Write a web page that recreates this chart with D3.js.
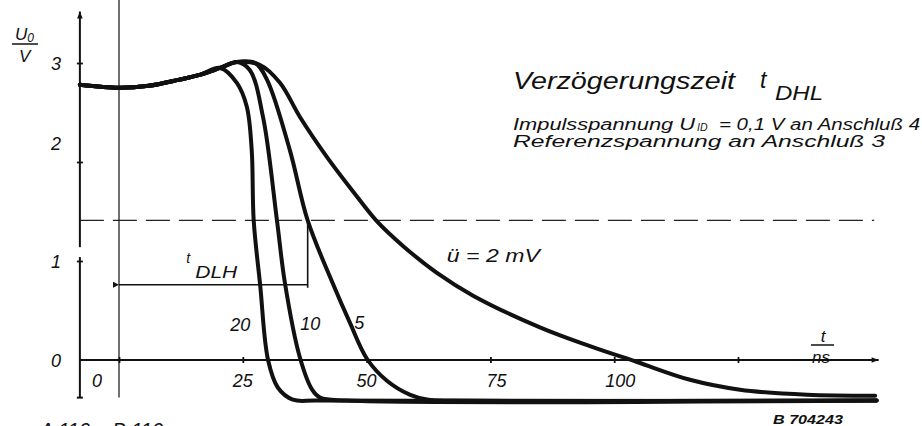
<!DOCTYPE html>
<html><head><meta charset="utf-8">
<script src="https://cdnjs.cloudflare.com/ajax/libs/d3/7.8.5/d3.min.js"></script>
<style>
html,body{margin:0;padding:0;background:#fff;}
svg{display:block;}
text{font-family:"Liberation Sans","DejaVu Sans",sans-serif;font-style:italic;fill:#111;}
</style></head><body>
<script>
// ---- data (t in ns, U0 in V) ----
const xTickValues = [0, 25, 50, 75, 100, 125];
const xTickLabels = ["0", "25", "50", "75", "100", ""];
const yTickValues = [3, 2, 1, 0];
const yTickLabels = ["3", "2", "1", "0"];
const threshold = 1.41;          // dashed reference level
const tdlhEnd = 38.1;            // end of t_DLH arrow (curve 5 crossing)
const tdlhLevel = 0.76;          // level of the t_DLH arrow

const seriesLabels = ["20", "10", "5", "ü = 2 mV"];
const t20 = [-7.9, 0, 6, 12, 16.3, 20.4, 23.8, 25.8, 26.8, 27.2, 28.5, 30.1, 32.1, 35.1, 40, 153];
const v20 = [2.78, 2.75, 2.77, 2.83, 2.88, 2.95, 2.80, 2.56, 2.12, 1.41, 0.76, 0, -0.28, -0.40, -0.41, -0.41];
const t10 = [-7.9, 0, 6, 12, 16.3, 20.4, 23.8, 26.4, 29.1, 31.9, 33.5, 36.5, 39, 40.6, 46, 153];
const v10 = [2.78, 2.75, 2.77, 2.83, 2.88, 2.95, 3.01, 2.93, 2.45, 1.41, 0.78, 0.03, -0.30, -0.38, -0.41, -0.41];
const t5 = [-7.9, 0, 6, 12, 16.3, 20.4, 23.8, 27.5, 29.9, 34.5, 38.1, 43.2, 46.6, 50.1, 54.1, 58.7, 62.2, 68, 153];
const v5 = [2.78, 2.75, 2.77, 2.83, 2.88, 2.95, 3.01, 3.0, 2.83, 2.12, 1.41, 0.77, 0.38, 0.01, -0.21, -0.35, -0.40, -0.41, -0.41];
const t2 = [-7.9, 0, 6, 12, 16.3, 20.4, 23.8, 28.5, 32.5, 36.6, 42.0, 47.3, 52.1, 57.4, 64.2, 71.5, 85.0, 95.1, 104.6, 115.3, 125.4, 138.9, 152.7];
const v2 = [2.78, 2.75, 2.77, 2.83, 2.88, 2.95, 3.01, 2.98, 2.80, 2.45, 2.05, 1.70, 1.40, 1.15, 0.88, 0.65, 0.33, 0.14, -0.02, -0.20, -0.30, -0.35, -0.36];

const W = 922, H = 426;
const svg = d3.select("body").append("svg").attr("width", W).attr("height", H);
svg.append("rect").attr("width", W).attr("height", H).attr("fill", "#fff");

const x = d3.scaleLinear().domain([0, 125]).range([119, 738]);
const y = d3.scaleLinear().domain([0, 3]).range([360, 63]);
const tMin = -7.9, tMax = 153.4, vMin = -0.38, vMax = 3.52;

const defs = svg.append("defs");
defs.append("marker").attr("id", "arrUp").attr("viewBox", "0 0 10 10").attr("refX", 10).attr("refY", 5)
  .attr("markerWidth", 12).attr("markerHeight", 7).attr("markerUnits", "userSpaceOnUse").attr("orient", "auto")
  .append("path").attr("d", "M0,1 L10,5 L0,9 Z").attr("fill", "#111");
defs.append("marker").attr("id", "arrL").attr("viewBox", "0 0 10 10").attr("refX", 0).attr("refY", 5)
  .attr("markerWidth", 14).attr("markerHeight", 6).attr("markerUnits", "userSpaceOnUse").attr("orient", "auto-start-reverse")
  .append("path").attr("d", "M0,5 L10,0 L10,10 Z").attr("fill", "#111");

// dashed threshold
svg.append("line").attr("x1", x(tMin)).attr("x2", x(152.5)).attr("y1", y(threshold)).attr("y2", y(threshold))
  .attr("stroke", "#222").attr("stroke-width", 1.3).attr("stroke-dasharray", "24,9");

// t = 0 vertical line
svg.append("line").attr("x1", x(0)).attr("x2", x(0)).attr("y1", 0).attr("y2", y(vMin))
  .attr("stroke", "#222").attr("stroke-width", 1.3);

// axes lines
svg.append("line").attr("x1", x(tMin)).attr("x2", x(tMin)).attr("y1", y(vMin)).attr("y2", y(1.04))
  .attr("stroke", "#111").attr("stroke-width", 2);
svg.append("line").attr("x1", x(tMin)).attr("x2", x(tMin)).attr("y1", y(1.14)).attr("y2", y(vMax))
  .attr("stroke", "#111").attr("stroke-width", 2).attr("marker-end", "url(#arrUp)");
svg.append("line").attr("x1", x(tMin) - 3).attr("x2", x(tMin) + 3).attr("y1", y(vMin)).attr("y2", y(vMin))
  .attr("stroke", "#111").attr("stroke-width", 2);
svg.append("line").attr("x1", x(tMin)).attr("x2", x(tMax)).attr("y1", y(0)).attr("y2", y(0))
  .attr("stroke", "#111").attr("stroke-width", 1.8).attr("marker-end", "url(#arrUp)");

// axis ticks via d3 axes
const gx = svg.append("g").attr("transform", `translate(0,${y(0) - 3})`)
  .call(d3.axisBottom(x).tickValues(xTickValues).tickSizeInner(6).tickSizeOuter(0).tickFormat(""));
const gy = svg.append("g").attr("transform", `translate(${x(tMin) + 3},0)`)
  .call(d3.axisLeft(y).tickValues(yTickValues.filter(v => v > 0)).tickSizeInner(6).tickSizeOuter(0).tickFormat(""));
[gx, gy].forEach(g => { g.select(".domain").remove(); g.selectAll(".tick line").attr("stroke", "#111").attr("stroke-width", 1.8); });

// tick labels
svg.append("g").selectAll("text").data(xTickValues.filter((d, i) => xTickLabels[i] !== "")).join("text")
  .attr("x", (d, i) => i === 0 ? x(d) - 22 : x(d) + (d >= 75 ? 6 : 0))
  .attr("y", y(0) + 27).attr("text-anchor", "middle").attr("font-size", 18)
  .text((d, i) => xTickLabels[i]);
svg.append("g").selectAll("text").data(yTickValues).join("text")
  .attr("x", 61).attr("y", d => y(d) + (d === 2 ? -12 : 7)).attr("text-anchor", "end").attr("font-size", 18)
  .text((d, i) => yTickLabels[i]);

// axis titles
const yl = svg.append("text").attr("x", 15).attr("y", 40).attr("font-size", 17);
yl.append("tspan").text("U");
yl.append("tspan").attr("font-size", 12).attr("dy", 2).text("0");
svg.append("line").attr("x1", 12).attr("x2", 38).attr("y1", 44).attr("y2", 44).attr("stroke", "#111").attr("stroke-width", 1.5);
svg.append("text").attr("x", 19).attr("y", 62).attr("font-size", 17).text("V");

svg.append("text").attr("x", 823).attr("y", 342).attr("font-size", 17).attr("text-anchor", "middle").text("t");
svg.append("line").attr("x1", 811).attr("x2", 834).attr("y1", 345).attr("y2", 345).attr("stroke", "#111").attr("stroke-width", 1.5);
svg.append("text").attr("x", 821).attr("y", 363).attr("font-size", 17).attr("text-anchor", "middle").text("ns");

// curves
const line = d3.line().x(d => x(d[0])).y(d => y(d[1])).curve(d3.curveCatmullRom.alpha(0.5));
const series = [[t20, v20], [t10, v10], [t5, v5], [t2, v2]];
svg.append("g").selectAll("path").data(series).join("path")
  .attr("d", s => line(d3.zip(s[0], s[1])))
  .attr("fill", "none").attr("stroke", "#111").attr("stroke-width", 4)
  .attr("stroke-linejoin", "round").attr("stroke-linecap", "round");

// curve labels
const labelPos = [[24.5, 0.29], [38.6, 0.30], [48.5, 0.31], [66.2, 0.99]];
svg.append("g").selectAll("text").data(seriesLabels).join("text")
  .attr("x", (d, i) => x(labelPos[i][0])).attr("y", (d, i) => y(labelPos[i][1]))
  .attr("text-anchor", (d, i) => i === 3 ? "start" : "middle").attr("font-size", 18)
  .attr("textLength", (d, i) => i === 3 ? 93 : null).attr("lengthAdjust", "spacingAndGlyphs")
  .text(d => d);

// t_DLH annotation
svg.append("line").attr("x1", x(0)).attr("x2", x(tdlhEnd)).attr("y1", y(tdlhLevel)).attr("y2", y(tdlhLevel))
  .attr("stroke", "#111").attr("stroke-width", 1.6).attr("marker-start", "url(#arrL)");
svg.append("line").attr("x1", x(tdlhEnd)).attr("x2", x(tdlhEnd)).attr("y1", y(threshold) + 2).attr("y2", y(tdlhLevel) + 3)
  .attr("stroke", "#111").attr("stroke-width", 1.6);
svg.append("text").attr("x", x(13.6)).attr("y", y(0.98)).attr("font-size", 14).text("t");
svg.append("text").attr("x", x(15.4)).attr("y", y(0.83)).attr("font-size", 16)
  .attr("textLength", 42).attr("lengthAdjust", "spacingAndGlyphs").text("DLH");

// title and notes
svg.append("text").attr("x", 513).attr("y", 89).attr("font-size", 23)
  .attr("textLength", 222).attr("lengthAdjust", "spacingAndGlyphs").text("Verzögerungszeit");
svg.append("text").attr("x", 760).attr("y", 88).attr("font-size", 23).text("t");
svg.append("text").attr("x", 775).attr("y", 100).attr("font-size", 21)
  .attr("textLength", 48).attr("lengthAdjust", "spacingAndGlyphs").text("DHL");

svg.append("text").attr("x", 513).attr("y", 130).attr("font-size", 16)
  .attr("textLength", 182).attr("lengthAdjust", "spacingAndGlyphs").text("Impulsspannung U");
svg.append("text").attr("x", 697).attr("y", 131).attr("font-size", 10.5).text("ID");
svg.append("text").attr("x", 719).attr("y", 130).attr("font-size", 16)
  .attr("textLength", 201).attr("lengthAdjust", "spacingAndGlyphs").text("= 0,1 V an Anschluß 4");
svg.append("text").attr("x", 513).attr("y", 147).attr("font-size", 16)
  .attr("textLength", 372).attr("lengthAdjust", "spacingAndGlyphs").text("Referenzspannung an Anschluß 3");

// figure codes
svg.append("text").attr("x", 40).attr("y", 437).attr("font-size", 20).text("A 110  –  B 110");
svg.append("text").attr("x", 773).attr("y", 424).attr("font-size", 12).attr("font-weight", "bold")
  .attr("textLength", 70).attr("lengthAdjust", "spacingAndGlyphs").text("B 704243");
</script>
</body></html>
